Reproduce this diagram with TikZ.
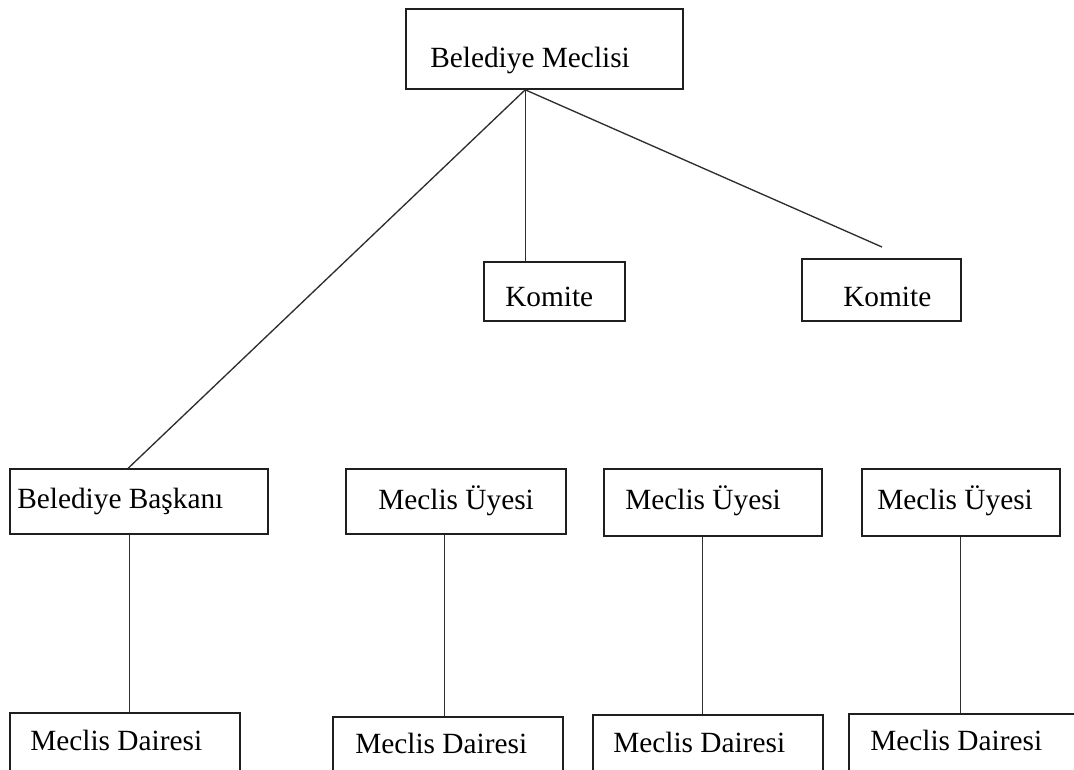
\documentclass[tikz,border=0pt]{standalone}
\usepackage{fontspec}
\setmainfont{Liberation Serif}
\usetikzlibrary{fit,calc}
\begin{document}
\begin{tikzpicture}[x=0.75pt,y=-0.75pt,
  box/.style={draw=black!88,line width=1.2pt,inner sep=0pt,fill=none},
  lbl/.style={inner sep=0pt,anchor=base west,font=\fontsize{22pt}{26pt}\selectfont,text=black},
  conn/.style={draw=black!82,line width=1.0pt}]
\clip (0,0) rectangle (1074,769);
\fill[white] (0,0) rectangle (1074,769);
% boxes
\node[box,fit={(406,9) (683,89)}] (bm) {};
\node[box,fit={(484,262) (625,321)}] (k1) {};
\node[box,fit={(802,259) (961,321)}] (k2) {};
\node[box,fit={(10,469) (268,534)}] (bb) {};
\node[box,fit={(346,469) (566,534)}] (mu1) {};
\node[box,fit={(604,469) (822,536)}] (mu2) {};
\node[box,fit={(862,469) (1060,536)}] (mu3) {};
\node[box,fit={(10,713) (240,790)}] (md1) {};
\node[box,fit={(333,717) (563,790)}] (md2) {};
\node[box,fit={(593,715) (823,790)}] (md3) {};
\node[box,fit={(849,714) (1079,790)}] (md4) {};
% labels
\node[lbl] (tbm) at (430,67) {Belediye Meclisi};
\node[lbl] (tk1) at (505,306) {Komite};
\node[lbl] (tk2) at (843,306) {Komite};
\node[lbl] (tbb) at (17,508) {Belediye Başkanı};
\node[lbl] (tmu1) at (378,509) {Meclis Üyesi};
\node[lbl] (tmu2) at (625,509) {Meclis Üyesi};
\node[lbl] (tmu3) at (877,509) {Meclis Üyesi};
\node[lbl] (tmd1) at (30,750) {Meclis Dairesi};
\node[lbl] (tmd2) at (355,753) {Meclis Dairesi};
\node[lbl] (tmd3) at (613,752) {Meclis Dairesi};
\node[lbl] (tmd4) at (870,750) {Meclis Dairesi};
% connectors
\coordinate (apex) at ($(bm.south west)+(120,0)$);
\coordinate (k2end) at (882,247);
\draw[conn] (apex) -- (apex |- k1.north);
\draw[conn] (apex) -- (k2end);
\draw[conn] (apex) -- ($(bb.north west)+(119,0)$);
\draw[conn] ($(bb.south west)+(120,0)$) -- ($(md1.north west)+(120,0)$);
\draw[conn] ($(mu1.south west)+(99,0)$) -- ($(md2.north west)+(112,0)$);
\draw[conn] ($(mu2.south west)+(99,0)$) -- ($(md3.north west)+(110,0)$);
\draw[conn] ($(mu3.south west)+(99,0)$) -- ($(md4.north west)+(112,0)$);
\end{tikzpicture}
\end{document}
